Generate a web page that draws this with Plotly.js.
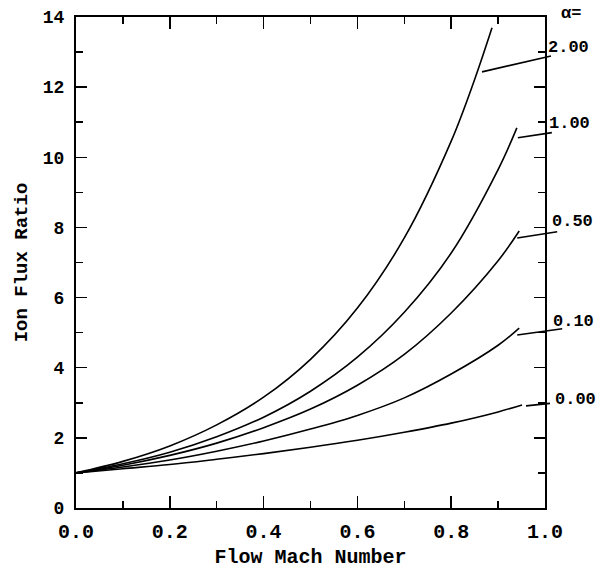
<!DOCTYPE html>
<html>
<head>
<meta charset="utf-8">
<script src="https://cdn.plot.ly/plotly-3.0.1.min.js"></script>
<style>html,body{margin:0;padding:0;background:#fff;}#chart{width:602px;height:569px;}</style>
</head>
<body>
<div id="chart"></div>
<script>
// Flow Mach number sample points per curve
const mach_a000 = [0, 0.1, 0.2, 0.3, 0.4, 0.5, 0.6, 0.7, 0.8, 0.9, 0.951];
const ratio_a000 = [1.0, 1.12, 1.24, 1.39, 1.55, 1.73, 1.93, 2.16, 2.42, 2.74, 2.94];

const mach_a010 = [0, 0.1, 0.2, 0.3, 0.4, 0.5, 0.6, 0.7, 0.8, 0.9, 0.945];
const ratio_a010 = [1.0, 1.17, 1.37, 1.62, 1.91, 2.25, 2.64, 3.14, 3.82, 4.64, 5.13];

const mach_a050 = [0, 0.1, 0.2, 0.3, 0.4, 0.5, 0.6, 0.7, 0.8, 0.9, 0.945];
const ratio_a050 = [1.0, 1.22, 1.50, 1.85, 2.29, 2.82, 3.50, 4.38, 5.56, 7.05, 7.90];

const mach_a100 = [0, 0.1, 0.2, 0.3, 0.4, 0.5, 0.6, 0.7, 0.8, 0.9, 0.94];
const ratio_a100 = [1.0, 1.26, 1.59, 2.03, 2.59, 3.33, 4.30, 5.58, 7.27, 9.65, 10.84];

const mach_a200 = [0, 0.1, 0.2, 0.3, 0.4, 0.5, 0.6, 0.7, 0.8, 0.85, 0.887];
const ratio_a200 = [1.0, 1.33, 1.77, 2.37, 3.16, 4.24, 5.70, 7.70, 10.46, 12.22, 13.69];

const alphaLabels = ["0.00", "0.10", "0.50", "1.00", "2.00"];
const xTickVals = [0, 0.2, 0.4, 0.6, 0.8, 1.0];
const yTickVals = [0, 2, 4, 6, 8, 10, 12, 14];

const series = [
  {x: mach_a000, y: ratio_a000, label: alphaLabels[0]},
  {x: mach_a010, y: ratio_a010, label: alphaLabels[1]},
  {x: mach_a050, y: ratio_a050, label: alphaLabels[2]},
  {x: mach_a100, y: ratio_a100, label: alphaLabels[3]},
  {x: mach_a200, y: ratio_a200, label: alphaLabels[4]}
];

// leader-line / label placement (pixel shifts relative to each curve's last point; +y = up)
const place = [
  {lx: 4,  ly: -1,  ax: 29, ay: -3,  tx: 31, ty: 5},
  {lx: -2, ly: -7,  ax: 50, ay: -7,  tx: 32, ty: 7},
  {lx: -2, ly: -7,  ax: 45, ay: -7,  tx: 31, ty: 9},
  {lx: 1,  ly: -10, ax: 39, ay: -6,  tx: 30, ty: 4},
  {lx: -10, ly: -44, ax: 74, ay: -17, tx: 54, ty: -20}
];

const FONT = "'Liberation Mono', 'Courier New', monospace";

const traces = series.map(s => ({
  type: 'scatter', mode: 'lines', x: s.x, y: s.y,
  line: {color: '#000', width: 1.6, shape: 'spline', smoothing: 1},
  showlegend: false, hoverinfo: 'skip'
}));

const annotations = [];
series.forEach((s, i) => {
  const n = s.x.length - 1;
  const p = place[i];
  annotations.push({
    x: s.x[n], y: s.y[n], xref: 'x', yref: 'y',
    text: ' ', showarrow: true, arrowhead: 0, arrowwidth: 1.6, arrowcolor: '#000',
    ax: p.ax, ay: p.ay, xshift: p.lx, yshift: p.ly, standoff: 0, startstandoff: 0
  });
  annotations.push({
    x: s.x[n], y: s.y[n], xref: 'x', yref: 'y',
    text: '<b>' + s.label + '</b>', showarrow: false,
    xanchor: 'left', yanchor: 'middle', xshift: p.tx, yshift: p.ty,
    font: {family: FONT, size: 17, color: '#000'}
  });
});
annotations.push({
  xref: 'paper', yref: 'paper', x: 1.055, y: 1.008, xanchor: 'center', yanchor: 'middle',
  text: '<b>α=</b>', showarrow: false, font: {family: FONT, size: 17, color: '#000'}
});

const layout = {
  width: 602, height: 569,
  margin: {l: 76, r: 57, t: 17, b: 61},
  paper_bgcolor: '#fff', plot_bgcolor: '#fff',
  showlegend: false,
  font: {family: FONT, color: '#000'},
  xaxis: {
    range: [0, 1.0], tickvals: xTickVals, ticktext: xTickVals.map(v => '<b>' + v.toFixed(1) + '</b>'),
    ticks: 'inside', ticklen: 12, tickwidth: 1.5, tickcolor: '#000',
    minor: {dtick: 0.1, ticks: 'inside', ticklen: 7, tickwidth: 1.5, tickcolor: '#000'},
    showline: true, linewidth: 2, linecolor: '#000', mirror: 'ticks',
    showgrid: false, zeroline: false,
    tickfont: {family: FONT, size: 20, color: '#000'},
    ticklabelstandoff: 4,
    title: {text: '<b>Flow Mach Number</b>', font: {family: FONT, size: 20, color: '#000'}, standoff: 12}
  },
  yaxis: {
    range: [0, 14], tickvals: yTickVals, ticktext: yTickVals.map(v => '<b>' + v + '</b>'),
    ticks: 'inside', ticklen: 11, tickwidth: 1.5, tickcolor: '#000',
    minor: {dtick: 1, ticks: 'inside', ticklen: 7, tickwidth: 1.5, tickcolor: '#000'},
    showline: true, linewidth: 2, linecolor: '#000', mirror: 'ticks',
    showgrid: false, zeroline: false,
    tickfont: {family: FONT, size: 18, color: '#000'},
    ticklabelstandoff: 6,
    title: {text: '<b>Ion Flux Ratio</b>', font: {family: FONT, size: 19, color: '#000'}, standoff: 10}
  },
  annotations: annotations
};

Plotly.newPlot('chart', traces, layout, {staticPlot: true, displayModeBar: false});
</script>
</body>
</html>
